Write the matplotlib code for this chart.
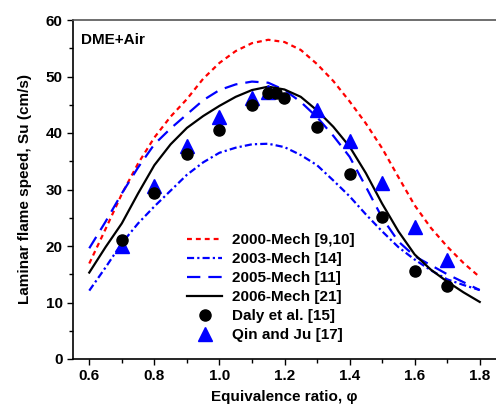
import numpy as np
import matplotlib
matplotlib.use("Agg")
import matplotlib.pyplot as plt
from matplotlib.ticker import MultipleLocator

plt.rcParams['font.family'] = ['Liberation Sans', 'DejaVu Sans']
plt.rcParams['font.weight'] = 'bold'

# equivalence ratio grid for the model curves
phi = [0.60, 0.65, 0.70, 0.75, 0.80, 0.85, 0.90, 0.95, 1.00, 1.05, 1.10, 1.15, 1.20,
       1.25, 1.30, 1.35, 1.40, 1.45, 1.50, 1.55, 1.60, 1.65, 1.70, 1.75, 1.80]

mech2000 = [16.9, 23.0, 29.2, 34.6, 39.2, 42.9, 46.0, 49.6, 52.4, 54.5, 55.9, 56.5, 56.1,
            54.7, 52.2, 49.2, 45.6, 41.7, 37.3, 32.2, 27.2, 23.2, 19.9, 17.0, 14.5]
mech2003 = [12.1, 16.2, 20.5, 24.0, 27.0, 29.8, 32.6, 34.8, 36.5, 37.4, 38.0, 38.1, 37.5,
            36.1, 34.3, 31.6, 28.8, 25.6, 22.6, 19.8, 17.6, 15.7, 14.1, 13.1, 12.2]
mech2005 = [19.6, 24.3, 29.3, 33.9, 38.0, 40.8, 43.3, 45.8, 47.6, 48.6, 49.1, 48.9, 47.6,
            45.5, 42.8, 39.5, 35.8, 30.5, 25.0, 20.8, 18.2, 16.6, 15.0, 13.6, 12.2]
mech2006 = [15.3, 19.8, 24.0, 29.3, 34.3, 38.0, 40.9, 43.0, 44.8, 46.4, 47.6, 48.2, 47.7,
            46.4, 44.0, 41.1, 37.6, 32.9, 27.5, 22.6, 18.5, 15.8, 13.7, 11.8, 10.1]

# experiments
daly_phi = [0.7, 0.8, 0.9, 1.0, 1.1, 1.15, 1.175, 1.2, 1.3, 1.4, 1.5, 1.6, 1.7]
daly_su = [21.0, 29.3, 36.3, 40.6, 45.0, 47.1, 47.1, 46.2, 41.1, 32.7, 25.1, 15.5, 13.0]

qin_phi = [0.7, 0.8, 0.9, 1.0, 1.1, 1.15, 1.3, 1.4, 1.5, 1.6, 1.7]
qin_su = [20.0, 30.6, 37.7, 42.9, 46.2, 47.3, 44.0, 38.5, 31.1, 23.4, 17.5]

fig = plt.figure(figsize=(4.96, 4.08), dpi=100)
ax = fig.add_axes([73 / 496, 1 - 359 / 408, 1 - 73 / 496, 339 / 408])

lw = 1.6
ax.plot(phi, mech2000, color='#ff0000', lw=lw, linestyle=(0, (2.2, 1.8)),
        label='2000-Mech [9,10]')
ax.plot(phi, mech2003, color='#0000ff', lw=lw, linestyle=(0, (3.2, 1.4, 1.0, 1.4)),
        label='2003-Mech [14]')
ax.plot(phi, mech2005, color='#0000ff', lw=lw, linestyle=(0, (6, 3.6)),
        label='2005-Mech [11]')
ax.plot(phi, mech2006, color='black', lw=lw, label='2006-Mech [21]')
ax.plot(qin_phi, qin_su, linestyle='none', marker='^', ms=9.5, color='#0000ff',
        zorder=3)
ax.plot(daly_phi, daly_su, linestyle='none', marker='o', ms=8, color='black',
        label='Daly et al. [15]', zorder=4)
# dummy handle so the legend order matches
qin_handle, = ax.plot([], [], linestyle='none', marker='^', ms=9.5, color='#0000ff',
                      label='Qin and Ju [17]')

ax.set_xlim(0.55, 1.85)
ax.set_ylim(0, 60)
ax.xaxis.set_minor_locator(MultipleLocator(0.1))
ax.yaxis.set_major_locator(MultipleLocator(10))
ax.yaxis.set_minor_locator(MultipleLocator(5))
ax.set_xticks(np.arange(0.6, 1.81, 0.2))
ax.set_xticklabels(['%.1f' % v for v in np.arange(0.6, 1.81, 0.2)])

ax.tick_params(which='major', direction='out', length=4.5, width=1.0, labelsize=11, pad=3)
ax.tick_params(which='minor', direction='out', length=3, width=1.0)
ax.tick_params(top=False, right=False, which='both')
for s in ['left', 'bottom']:
    ax.spines[s].set_linewidth(1.2)
ax.spines['top'].set_linewidth(1.2)
ax.spines['top'].set_color('#555555')
ax.spines['right'].set_visible(False)

ax.set_xlabel('Equivalence ratio, φ', fontsize=11, fontweight='bold', labelpad=5)
ax.set_ylabel('Laminar flame speed, Su (cm/s)', fontsize=11, fontweight='bold', labelpad=10)

ax.text(0.018, 0.94, 'DME+Air', transform=ax.transAxes, fontsize=11,
        fontweight='bold', va='center', ha='left')

handles, labels = ax.get_legend_handles_labels()
ax.legend(handles, labels, loc='upper left', bbox_to_anchor=(0.27, 0.372), frameon=False,
          handlelength=2.3, handletextpad=0.65, labelspacing=0.33,
          borderaxespad=0, borderpad=0, prop={'weight': 'bold', 'size': 11})

fig.savefig('out.png', dpi=100)
